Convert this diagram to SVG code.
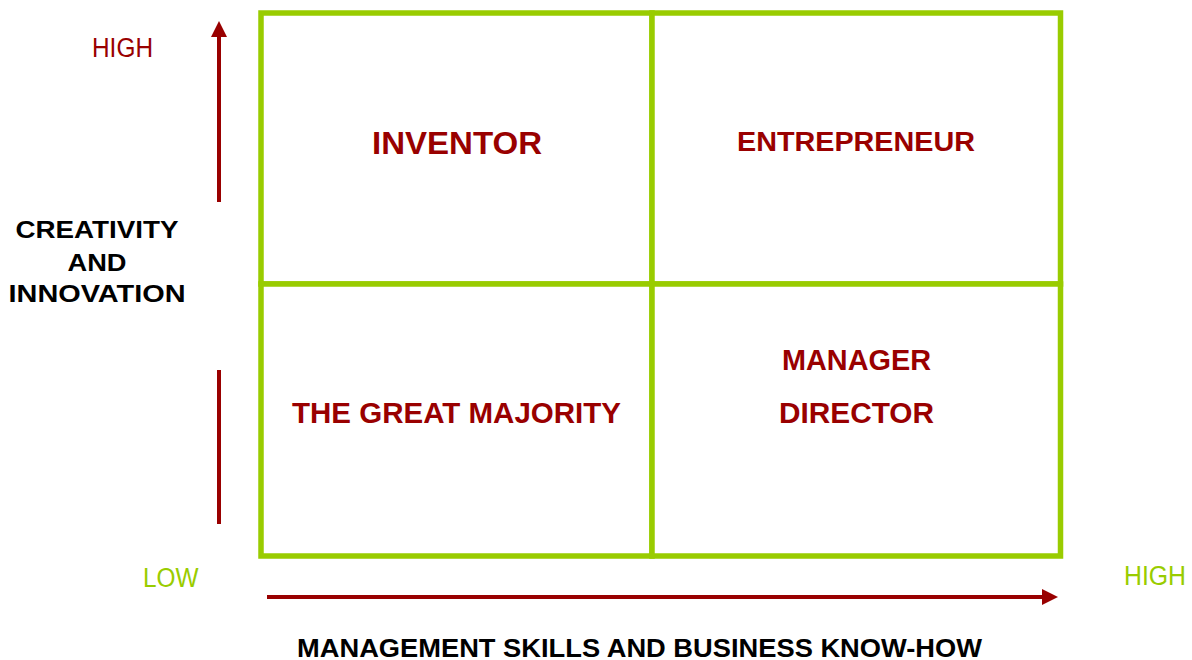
<svg xmlns="http://www.w3.org/2000/svg" width="1192" height="660" viewBox="0 0 1192 660">
<style>
.cell{fill:#ffffff;stroke:#99cc00;stroke-width:5.5}
.q{font-family:"Liberation Sans",Arial,sans-serif;font-weight:bold;fill:#990000;text-anchor:middle}
.axis{font-family:"Liberation Sans",Arial,sans-serif;font-weight:bold;fill:#000000;text-anchor:middle}
.lvl{font-family:"Liberation Sans",Arial,sans-serif;font-size:27px}
.red{fill:#990000}
.green{fill:#99cc00}
.arr{stroke:#990000;stroke-width:4;fill:none}
</style>
<defs>
<marker id="ah" markerUnits="userSpaceOnUse" markerWidth="16" markerHeight="16" refX="0" refY="8" orient="auto">
<path d="M0,0 L16,8 L0,16 z" fill="#990000"/>
</marker>
</defs>
<rect width="1192" height="660" fill="#ffffff"/>
<g id="connectors">
<line class="arr" x1="219" y1="202" x2="219" y2="37" marker-end="url(#ah)"/>
<line class="arr" x1="219" y1="370" x2="219" y2="524"/>
<line class="arr" x1="267" y1="597" x2="1042" y2="597" marker-end="url(#ah)"/>
</g>
<g id="inventor">
<rect class="cell" x="261" y="13" width="391" height="271"/>
<text class="q" x="457" y="154" font-size="31" textLength="170" lengthAdjust="spacingAndGlyphs">INVENTOR</text>
</g>
<g id="entrepreneur">
<rect class="cell" x="652" y="13" width="408.5" height="271"/>
<text class="q" x="856" y="150.5" font-size="27" textLength="238" lengthAdjust="spacingAndGlyphs">ENTREPRENEUR</text>
</g>
<g id="great-majority">
<rect class="cell" x="261" y="284" width="391" height="272"/>
<text class="q" x="456.5" y="423" font-size="29" textLength="329" lengthAdjust="spacingAndGlyphs">THE GREAT MAJORITY</text>
</g>
<g id="manager-director">
<rect class="cell" x="652" y="284" width="408.5" height="272"/>
<text class="q" x="856.5" y="370" font-size="29" textLength="149" lengthAdjust="spacingAndGlyphs">MANAGER</text>
<text class="q" x="856.5" y="423" font-size="29" textLength="155" lengthAdjust="spacingAndGlyphs">DIRECTOR</text>
</g>
<g id="y-axis-label">
<text class="axis" x="97" y="238" font-size="24" textLength="163" lengthAdjust="spacingAndGlyphs">CREATIVITY</text>
<text class="axis" x="97" y="271" font-size="24" textLength="59" lengthAdjust="spacingAndGlyphs">AND</text>
<text class="axis" x="97" y="302" font-size="24" textLength="177" lengthAdjust="spacingAndGlyphs">INNOVATION</text>
</g>
<g id="x-axis-label">
<text class="axis" x="639.5" y="657" font-size="25" textLength="685" lengthAdjust="spacingAndGlyphs">MANAGEMENT SKILLS AND BUSINESS KNOW-HOW</text>
</g>
<g id="levels">
<text class="lvl red" x="92" y="56.7" textLength="61" lengthAdjust="spacingAndGlyphs">HIGH</text>
<text class="lvl green" x="143" y="586.5" textLength="55.5" lengthAdjust="spacingAndGlyphs">LOW</text>
<text class="lvl green" x="1124" y="585" textLength="62" lengthAdjust="spacingAndGlyphs">HIGH</text>
</g>
</svg>
